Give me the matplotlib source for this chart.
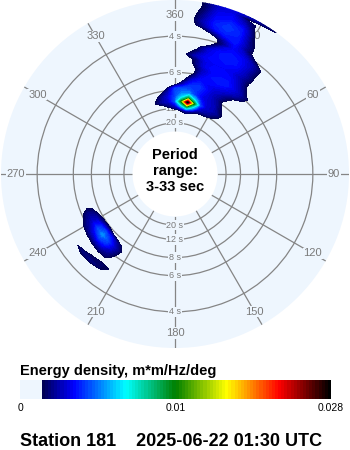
import numpy as np
import matplotlib
matplotlib.use("Agg")
import matplotlib.pyplot as plt
from matplotlib import colors, cm

plt.rcParams['font.family'] = ['Liberation Sans', 'DejaVu Sans']

# energy density, units of 1e-4 m*m/Hz/deg
# wind sea from the NNE: rows = frequency (Hz), cols = direction (deg)
sea_dirs = [-20, -15, -10, -5, 0, 5, 10, 15, 20, 25, 30, 35, 40, 45]
sea_freqs = [0.07, 0.08, 0.09, 0.10, 0.11, 0.12, 0.13, 0.14, 0.15, 0.16, 0.17,
             0.18, 0.19, 0.20, 0.21, 0.22, 0.23, 0.24, 0.25, 0.26, 0.27, 0.28,
             0.29, 0.30, 0.31, 0.32, 0.326, 0.333, 0.34]
sea_energy = [
    [0, 0, 0, 0, 0, 0, 0, 0, 0, 0, 0, 0, 0, 0],
    [0, 0, 0, 0, 3, 6, 14, 8, 4, 4, 3, 0, 0, 0],
    [0, 0, 3, 8, 16, 45, 90, 45, 16, 12, 10, 6, 2, 0],
    [0, 6, 12, 16, 32, 100, 280, 100, 30, 16, 14, 10, 4, 0],
    [0, 3, 10, 18, 30, 50, 90, 45, 22, 16, 14, 7, 2, 0],
    [0, 0, 4, 14, 30, 36, 38, 26, 18, 16, 12, 5, 0, 0],
    [0, 0, 0, 6, 28, 32, 30, 26, 20, 15, 10, 2, 0, 0],
    [0, 0, 0, 0, 0, 14, 26, 28, 22, 16, 12, 6, 0, 0],
    [0, 0, 0, 0, 0, 3, 18, 24, 20, 18, 16, 10, 2, 0],
    [0, 0, 0, 0, 0, 0, 8, 20, 22, 22, 20, 16, 10, 2],
    [0, 0, 0, 0, 0, 0, 2, 16, 22, 24, 24, 18, 12, 4],
    [0, 0, 0, 0, 0, 0, 3, 14, 20, 22, 22, 16, 8, 0],
    [0, 0, 0, 0, 0, 0, 6, 18, 22, 22, 20, 14, 4, 0],
    [0, 0, 0, 0, 0, 0, 7, 18, 20, 20, 18, 12, 4, 0],
    [0, 0, 0, 0, 0, 4, 14, 20, 22, 22, 20, 14, 5, 0],
    [0, 0, 0, 0, 0, 0, 7, 18, 22, 24, 22, 14, 4, 0],
    [0, 0, 0, 0, 0, 0, 3, 16, 22, 24, 22, 15, 5, 0],
    [0, 0, 0, 0, 0, 0, 0, 4, 18, 22, 20, 14, 5, 0],
    [0, 0, 0, 0, 0, 0, 0, 0, 8, 20, 16, 6, 0, 0],
    [0, 0, 0, 0, 0, 0, 0, 0, 12, 22, 10, 0, 0, 0],
    [0, 0, 0, 0, 0, 0, 0, 10, 22, 24, 10, 0, 0, 0],
    [0, 0, 0, 0, 0, 0, 9, 22, 26, 24, 8, 0, 0, 0],
    [0, 0, 0, 0, 0, 0, 12, 24, 28, 24, 6, 0, 0, 0],
    [0, 0, 0, 0, 0, 0, 10, 22, 26, 22, 5, 0, 0, 0],
    [0, 0, 0, 0, 0, 0, 8, 20, 22, 16, 2, 0, 0, 0],
    [0, 0, 0, 0, 0, 0, 6, 18, 20, 10, 3, 0, 0, 0],
    [0, 0, 0, 0, 0, 0, 6, 16, 18, 4, 3, 0, 0, 0],
    [0, 0, 0, 0, 0, 0, 6, 16, 18, 14, 10, 6, 0, 0],
    [0, 0, 0, 0, 0, 0, 6, 16, 18, 14, 10, 6, 0, 0],
]

# swell from the SW
swell_dirs = [205, 210, 215, 220, 225, 230, 235, 240, 245, 250, 255]
swell_freqs = [0.12, 0.13, 0.14, 0.15, 0.16, 0.17, 0.18, 0.19, 0.20, 0.21,
               0.22, 0.23]
swell_energy = [
    [0, 0, 0, 0, 0, 0, 0, 0, 0, 0, 0],
    [0, 0, 0, 0, 3, 8, 8, 6, 2, 0, 0],
    [0, 0, 3, 10, 22, 30, 25, 14, 8, 2, 0],
    [0, 0, 6, 16, 30, 38, 30, 16, 10, 3, 0],
    [0, 0, 4, 14, 26, 30, 20, 12, 8, 0, 0],
    [0, 0, 2, 10, 16, 16, 12, 8, 3, 0, 0],
    [0, 0, 0, 7, 8, 6, 4, 2, 0, 0, 0],
    [0, 0, 0, 0, 0, 0, 0, 0, 0, 0, 0],
    [0, 0, 5, 7, 5, 0, 0, 0, 0, 0, 0],
    [0, 0, 3, 7, 9, 8, 4, 0, 0, 0, 0],
    [0, 0, 0, 0, 2, 3, 2, 0, 0, 0, 0],
    [0, 0, 0, 0, 0, 0, 0, 0, 0, 0, 0],
]

periods = [4, 6, 8, 12, 20]
dir_ticks = list(range(0, 360, 30))
cbar_ticks = [0, 0.01, 0.028]

period_min, period_max = 3, 33
vmax = 0.028
bg = '#eef6fe'
grid_c = '#858585'

f_in, f_out = 1.0 / period_max, 1.0 / period_min
hole = 42.5 / 174.0
r_origin = (f_in - hole * f_out) / (1 - hole)

# colour scale: pale below 0.0005, then navy-blue-cyan-green-yellow-red-black
norm = colors.PowerNorm(gamma=0.673, vmin=0, vmax=vmax)
p0 = float(norm(0.0005))
cmap = colors.LinearSegmentedColormap.from_list('energy', [
    (0.0, bg), (p0, bg), (p0 + 0.001, '#000050'), (0.17, '#0000ff'),
    (0.338, '#00ffff'), (0.5, '#008000'), (0.666, '#ffff00'),
    (0.836, '#ff0000'), (1.0, '#000000')], N=100)
levels = norm.inverse(np.linspace(p0, 1, 90))

fig = plt.figure(figsize=(3.5, 4.5), dpi=100)

ax = fig.add_axes([1 / 350, 102 / 450, 348 / 350, 348 / 450], projection='polar')
ax.set_theta_zero_location('N')
ax.set_theta_direction(-1)
ax.set_ylim(f_in, f_out)
ax.set_rorigin(r_origin)
ax.set_facecolor(bg)
for s in ax.spines.values():
    s.set_linewidth(0)
    s.set_color('none')
ax.set_thetagrids(dir_ticks, labels=[])
ax.set_rgrids([1.0 / p for p in periods], labels=[])
ax.grid(True, color=grid_c, lw=0.9)
ax.set_axisbelow(True)

for dirs, freqs, energy in [(sea_dirs, sea_freqs, sea_energy),
                            (swell_dirs, swell_freqs, swell_energy)]:
    th, fr = np.meshgrid(np.deg2rad(dirs), freqs)
    ax.contourf(th, fr, np.array(energy) * 1e-4, levels=levels, cmap=cmap,
                norm=norm, extend='max', zorder=2)

# direction labels sit under the spectrum
box = dict(facecolor=bg, edgecolor='none', pad=0.6)
for d in dir_ticks:
    lab = '360' if d == 0 else str(d)
    ax.text(np.deg2rad(d), 0.2985, lab, ha='center', va='center', fontsize=8,
            color='#7a7a7a', bbox=box, zorder=1)

for p in periods:
    for a in (0, 180):
        ax.text(np.deg2rad(a), 1.0 / p, '%d s' % p, ha='center', va='center',
                fontsize=6.5, color='#7a7a7a', bbox=box, zorder=1)

fig.text(0.5, 0.62, 'Period\nrange:\n%d-%d sec' % (period_min, period_max),
         ha='center', va='center', fontsize=10.5, fontweight='bold',
         linespacing=1.15)

fig.text(20 / 350, 75 / 450, 'Energy density, m*m/Hz/deg', ha='left',
         va='baseline', fontsize=10.5, fontweight='bold')

cax = fig.add_axes([20 / 350, 51 / 450, 311 / 350, 19 / 450])
cb = fig.colorbar(cm.ScalarMappable(norm=norm, cmap=cmap), cax=cax,
                  orientation='horizontal')
cb.set_ticks(cbar_ticks, labels=['0', '0.01', '0.028'])
cb.outline.set_visible(False)
cax.tick_params(length=0, pad=3, labelsize=7.5)

fig.text(20 / 350, 4 / 450, 'Station 181    2025-06-22 01:30 UTC', ha='left',
         va='baseline', fontsize=13, fontweight='bold')

fig.savefig('out.png', dpi=100)
